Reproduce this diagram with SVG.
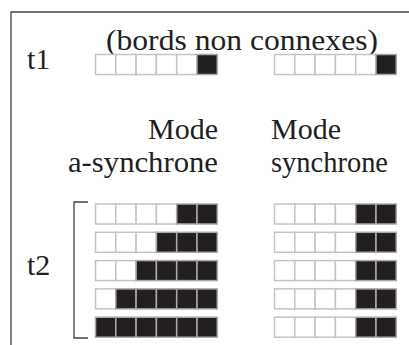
<svg xmlns="http://www.w3.org/2000/svg" width="409" height="345" viewBox="0 0 409 345">
<style>
.t{font-family:"Liberation Serif","Times New Roman",serif;font-size:30px;fill:#231f20}
.w{fill:#ffffff;stroke:#c4c4c4;stroke-width:1.5}
.b{fill:#231f20;stroke:#aaaaaa;stroke-width:1.5}
.ln{fill:none;stroke:#444;stroke-width:1.3}
</style>
<defs>
<rect id="cw" class="w" width="20.3" height="20"/>
<rect id="cb" class="b" width="20.3" height="20"/>
</defs>
<rect width="409" height="345" fill="#fff"/>
<g id="connectors">
<path class="ln" d="M11,345 V12 H409"/>
<path class="ln" d="M88,202 H74 V338 H88"/>
</g>
<g id="labels">
<text class="t" x="242" y="50" text-anchor="middle" textLength="272" lengthAdjust="spacingAndGlyphs">(bords non connexes)</text>
<text class="t" x="27" y="69">t1</text>
<text class="t" x="27" y="275">t2</text>
<text class="t" x="218" y="139" text-anchor="end">Mode</text>
<text class="t" x="218" y="172" text-anchor="end" textLength="150" lengthAdjust="spacingAndGlyphs">a-synchrone</text>
<text class="t" x="271" y="139">Mode</text>
<text class="t" x="271" y="172" textLength="117" lengthAdjust="spacingAndGlyphs">synchrone</text>
</g>
<g id="t1-async">
<use href="#cw" x="95.5" y="54.5"/><use href="#cw" x="115.8" y="54.5"/><use href="#cw" x="136.1" y="54.5"/><use href="#cw" x="156.4" y="54.5"/><use href="#cw" x="176.7" y="54.5"/><use href="#cb" x="197" y="54.5"/>
</g>
<g id="t1-sync">
<use href="#cw" x="274.5" y="54.5"/><use href="#cw" x="294.8" y="54.5"/><use href="#cw" x="315.1" y="54.5"/><use href="#cw" x="335.4" y="54.5"/><use href="#cw" x="355.7" y="54.5"/><use href="#cb" x="376" y="54.5"/>
</g>
<g id="t2-async">
<use href="#cw" x="95.5" y="204"/><use href="#cw" x="115.8" y="204"/><use href="#cw" x="136.1" y="204"/><use href="#cw" x="156.4" y="204"/><use href="#cb" x="176.7" y="204"/><use href="#cb" x="197" y="204"/>
<use href="#cw" x="95.5" y="232.3"/><use href="#cw" x="115.8" y="232.3"/><use href="#cw" x="136.1" y="232.3"/><use href="#cb" x="156.4" y="232.3"/><use href="#cb" x="176.7" y="232.3"/><use href="#cb" x="197" y="232.3"/>
<use href="#cw" x="95.5" y="260.6"/><use href="#cw" x="115.8" y="260.6"/><use href="#cb" x="136.1" y="260.6"/><use href="#cb" x="156.4" y="260.6"/><use href="#cb" x="176.7" y="260.6"/><use href="#cb" x="197" y="260.6"/>
<use href="#cw" x="95.5" y="288.9"/><use href="#cb" x="115.8" y="288.9"/><use href="#cb" x="136.1" y="288.9"/><use href="#cb" x="156.4" y="288.9"/><use href="#cb" x="176.7" y="288.9"/><use href="#cb" x="197" y="288.9"/>
<use href="#cb" x="95.5" y="317.2"/><use href="#cb" x="115.8" y="317.2"/><use href="#cb" x="136.1" y="317.2"/><use href="#cb" x="156.4" y="317.2"/><use href="#cb" x="176.7" y="317.2"/><use href="#cb" x="197" y="317.2"/>
</g>
<g id="t2-sync">
<use href="#cw" x="274.5" y="204"/><use href="#cw" x="294.8" y="204"/><use href="#cw" x="315.1" y="204"/><use href="#cw" x="335.4" y="204"/><use href="#cb" x="355.7" y="204"/><use href="#cb" x="376" y="204"/>
<use href="#cw" x="274.5" y="232.3"/><use href="#cw" x="294.8" y="232.3"/><use href="#cw" x="315.1" y="232.3"/><use href="#cw" x="335.4" y="232.3"/><use href="#cb" x="355.7" y="232.3"/><use href="#cb" x="376" y="232.3"/>
<use href="#cw" x="274.5" y="260.6"/><use href="#cw" x="294.8" y="260.6"/><use href="#cw" x="315.1" y="260.6"/><use href="#cw" x="335.4" y="260.6"/><use href="#cb" x="355.7" y="260.6"/><use href="#cb" x="376" y="260.6"/>
<use href="#cw" x="274.5" y="288.9"/><use href="#cw" x="294.8" y="288.9"/><use href="#cw" x="315.1" y="288.9"/><use href="#cw" x="335.4" y="288.9"/><use href="#cb" x="355.7" y="288.9"/><use href="#cb" x="376" y="288.9"/>
<use href="#cw" x="274.5" y="317.2"/><use href="#cw" x="294.8" y="317.2"/><use href="#cw" x="315.1" y="317.2"/><use href="#cw" x="335.4" y="317.2"/><use href="#cb" x="355.7" y="317.2"/><use href="#cb" x="376" y="317.2"/>
</g>
</svg>
